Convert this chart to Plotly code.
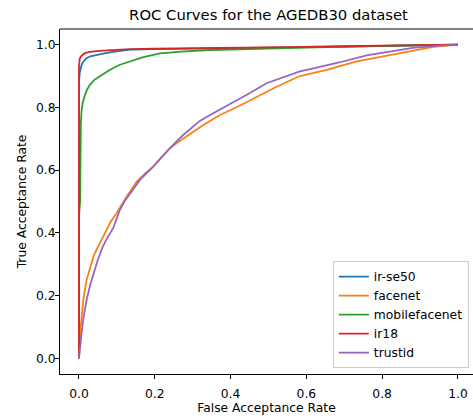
import plotly.graph_objects as go

names = ["ir-se50", "facenet", "mobilefacenet", "ir18", "trustid"]
colors = ["#1f77b4", "#ff7f0e", "#2ca02c", "#d62728", "#9467bd"]

irse50_far = [0, 0, 0.002, 0.004, 0.007, 0.012, 0.02, 0.03, 0.047, 0.07, 0.09, 0.135, 0.2, 0.3, 0.45, 0.6, 0.75, 0.9, 1.0]
irse50_tar = [0, 0.88, 0.91, 0.925, 0.936, 0.947, 0.957, 0.963, 0.968, 0.973, 0.977, 0.984, 0.986, 0.987, 0.989, 0.992, 0.995, 0.998, 1.0]

facenet_far = [0, 0.001, 0.003, 0.007, 0.012, 0.02, 0.03, 0.038, 0.047, 0.055, 0.065, 0.075, 0.085, 0.099, 0.112, 0.126, 0.14, 0.152, 0.175, 0.196, 0.22, 0.24, 0.262, 0.284, 0.306, 0.328, 0.35, 0.372, 0.42, 0.47, 0.52, 0.583, 0.654, 0.733, 0.803, 0.865, 0.935, 1.0]
facenet_tar = [0, 0.03, 0.07, 0.132, 0.19, 0.25, 0.29, 0.324, 0.348, 0.367, 0.39, 0.415, 0.438, 0.462, 0.49, 0.516, 0.541, 0.563, 0.59, 0.611, 0.643, 0.67, 0.69, 0.708, 0.727, 0.744, 0.76, 0.776, 0.803, 0.835, 0.865, 0.9, 0.92, 0.947, 0.963, 0.979, 0.993, 1.0]

mobile_far = [0, 0, 0.003, 0.004, 0.005, 0.007, 0.01, 0.016, 0.022, 0.029, 0.04, 0.055, 0.068, 0.082, 0.108, 0.135, 0.17, 0.214, 0.27, 0.346, 0.45, 0.6, 0.8, 1.0]
mobile_tar = [0, 0.45, 0.5, 0.65, 0.75, 0.79, 0.815, 0.84, 0.858, 0.872, 0.887, 0.899, 0.91, 0.92, 0.936, 0.947, 0.96, 0.972, 0.978, 0.983, 0.987, 0.991, 0.996, 1.0]

ir18_far = [0, 0, 0, 0.002, 0.005, 0.01, 0.016, 0.025, 0.04, 0.064, 0.1, 0.135, 0.2, 0.3, 0.425, 0.55, 0.7, 0.85, 1.0]
ir18_tar = [0, 0.05, 0.93, 0.955, 0.962, 0.968, 0.973, 0.976, 0.979, 0.981, 0.983, 0.986, 0.987, 0.988, 0.989, 0.992, 0.995, 0.998, 1.0]

trustid_far = [0, 0.002, 0.004, 0.007, 0.012, 0.02, 0.03, 0.038, 0.05, 0.063, 0.075, 0.09, 0.1, 0.108, 0.12, 0.135, 0.148, 0.161, 0.178, 0.196, 0.213, 0.231, 0.253, 0.275, 0.297, 0.319, 0.34, 0.363, 0.39, 0.416, 0.45, 0.495, 0.54, 0.583, 0.61, 0.689, 0.759, 0.82, 0.881, 0.953, 1.0]
trustid_tar = [0, 0.03, 0.055, 0.08, 0.13, 0.185, 0.235, 0.27, 0.315, 0.356, 0.385, 0.414, 0.445, 0.473, 0.5, 0.526, 0.549, 0.569, 0.59, 0.611, 0.635, 0.659, 0.686, 0.712, 0.736, 0.757, 0.772, 0.787, 0.806, 0.822, 0.845, 0.877, 0.897, 0.915, 0.922, 0.944, 0.966, 0.979, 0.99, 0.997, 1.0]

tick_vals = [0.0, 0.2, 0.4, 0.6, 0.8, 1.0]
tick_text = ["0.0", "0.2", "0.4", "0.6", "0.8", "1.0"]

series = [
    (irse50_far, irse50_tar),
    (facenet_far, facenet_tar),
    (mobile_far, mobile_tar),
    (ir18_far, ir18_tar),
    (trustid_far, trustid_tar),
]

FONT = "DejaVu Sans"
fig = go.Figure()
for i, ((fx, ty), name, c) in enumerate(zip(series, names, colors)):
    fig.add_trace(go.Scatter(x=fx, y=ty, mode="lines", name=name,
                             line=dict(color=c, width=1.8)))

axis_common = dict(
    showgrid=False, zeroline=False, showline=True, linecolor="black", linewidth=1,
    ticks="outside", ticklen=4, tickwidth=1, tickcolor="black",
    tickvals=tick_vals, ticktext=tick_text,
    tickfont=dict(family=FONT, size=12.3, color="black"),
)

fig.update_layout(
    width=473, height=416,
    margin=dict(l=60, r=0, t=29, b=42),
    plot_bgcolor="white", paper_bgcolor="white",
    font=dict(family=FONT, size=12.3, color="black"),
    title=dict(text="ROC Curves for the AGEDB30 dataset", x=268.5 / 473, xanchor="center",
               y=1 - 15 / 416, yanchor="middle", font=dict(family=FONT, size=14.8, color="black")),
    xaxis=dict(range=[-0.05, 1.0397], title=dict(text="False Acceptance Rate", standoff=0,
               font=dict(family=FONT, size=12.3)), automargin=False, ticklabelstandoff=4,
               **axis_common),
    yaxis=dict(range=[-0.05, 1.05], title=dict(text="True Acceptance Rate", standoff=6,
               font=dict(family=FONT, size=12.3)), automargin=False, ticklabelstandoff=-3,
               **axis_common),
    legend=dict(x=0.99, xanchor="right", y=0.017, yanchor="bottom",
                bordercolor="#cccccc", borderwidth=1, bgcolor="rgba(255,255,255,0.8)",
                font=dict(family=FONT, size=12.3, color="black"),
                tracegroupgap=0),
    showlegend=True,
)
fig.add_shape(type="line", xref="paper", yref="paper", x0=0, x1=1, y0=1, y1=1,
              line=dict(color="black", width=1))

fig.write_html("out.html")
